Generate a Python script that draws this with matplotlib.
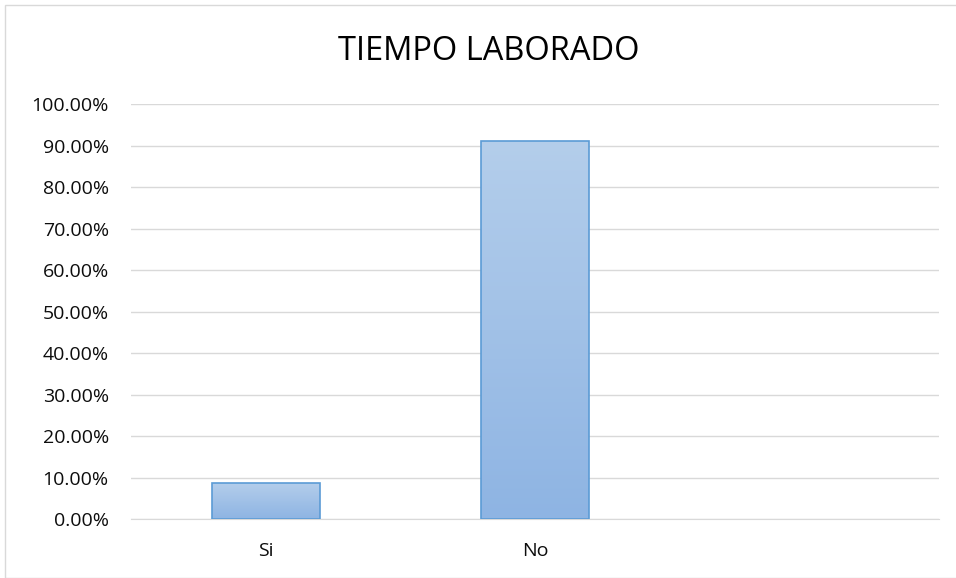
import matplotlib
matplotlib.use("Agg")
import matplotlib.pyplot as plt
import numpy as np
from matplotlib.patches import Rectangle
from matplotlib.ticker import FuncFormatter, MultipleLocator
from matplotlib.colors import LinearSegmentedColormap

categories = ["Si", "No"]
values = [8.82, 91.18]
n_slots = 3
title = "TIEMPO LABORADO"

plt.rcParams['font.family'] = ['Open Sans', 'DejaVu Sans']

fig = plt.figure(figsize=(9.56, 5.78), dpi=100)
ax = fig.add_axes([131/956, 1-519.3/578, (939-131)/956, (519.3-104.3)/578])

x = np.arange(len(categories))
bars = ax.bar(x, values, width=0.4, color='none', edgecolor='#5B9BD5', linewidth=1.2, zorder=3)

grad = np.linspace(0, 1, 256).reshape(-1, 1)
cmap = LinearSegmentedColormap.from_list('g', ['#8EB4E3', '#B4CEEB'])
for b in bars:
    x0, y0 = b.get_x(), b.get_y()
    w, h = b.get_width(), b.get_height()
    im = ax.imshow(grad, extent=[x0, x0 + w, y0, y0 + h], origin='lower', cmap=cmap,
                   aspect='auto', zorder=2)
    im.set_clip_path(b)

ax.set_xlim(-0.5, n_slots - 0.5)
ax.set_ylim(0, 100)
ax.yaxis.set_major_locator(MultipleLocator(10))
ax.yaxis.set_major_formatter(FuncFormatter(lambda v, p: f"{v:.2f}%"))
ax.set_xticks(x)
ax.set_xticklabels(categories)
ax.grid(axis='y', color='#D9D9D9', linewidth=1, zorder=0)
ax.set_axisbelow(True)
for s in ['top', 'right', 'left']:
    ax.spines[s].set_visible(False)
ax.spines['bottom'].set_color('#D9D9D9')
ax.tick_params(axis='both', length=0, labelsize=14, colors='#0D0D0D')
ax.tick_params(axis='y', pad=16)
ax.tick_params(axis='x', pad=16)

fig.text(0.511, 1 - 60/578, title, ha='center', va='baseline', fontsize=23.5, color='#000000')

fig.patches.append(Rectangle((5/956, 0), 1, 1 - 5/578, transform=fig.transFigure,
                             fill=False, edgecolor='#D9D9D9', linewidth=1))

fig.savefig("out.png", dpi=100)
